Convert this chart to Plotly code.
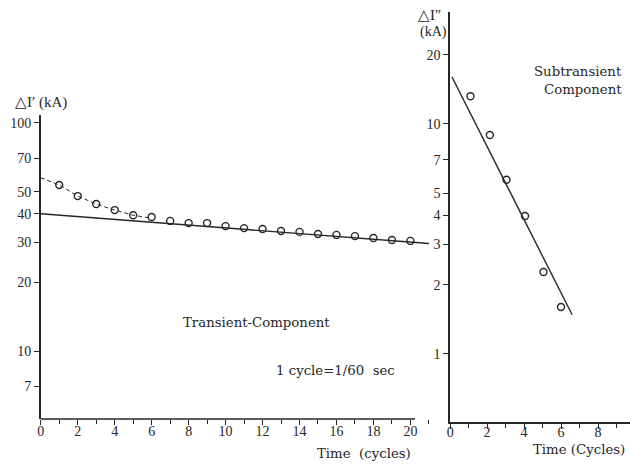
import plotly.graph_objects as go

# ---- data ----
t_trans = list(range(1, 21))
i_trans = [53.5, 47.8, 44.1, 41.5, 39.4, 38.7, 37.2, 36.4, 36.4, 35.3,
           34.6, 34.3, 33.6, 33.3, 32.6, 32.3, 31.9, 31.3, 30.7, 30.4]
t_dash = [0, 1, 2, 3, 4, 5, 6]
i_dash = [57.5, 53.5, 47.8, 44.1, 41.5, 39.4, 38.2]
t_fit_trans = [0, 21]
i_fit_trans = [40.0, 29.6]

t_sub = [1.1, 2.15, 3.05, 4.05, 5.05, 6.0]
i_sub = [13.2, 8.96, 5.72, 3.98, 2.27, 1.60]
t_fit_sub = [0.1, 6.6]
i_fit_sub = [16.0, 1.48]

left_yticks = [7, 10, 20, 30, 40, 50, 70, 100]
right_yticks = [1, 2, 3, 4, 5, 7, 10, 20]
left_xticks = [0, 2, 4, 6, 8, 10, 12, 14, 16, 18, 20]
right_xticks = [0, 2, 4, 6, 8]

INK = "#262626"
FONT = "Liberation Serif"
TFONT = "DejaVu Serif"
W, H = 630, 465

fig = go.Figure()
fig.add_trace(go.Scatter(x=t_dash, y=i_dash, mode="lines",
                         line=dict(color=INK, width=1, dash="4px,3px"),
                         xaxis="x", yaxis="y", hoverinfo="skip"))
fig.add_trace(go.Scatter(x=t_fit_trans, y=i_fit_trans, mode="lines",
                         line=dict(color=INK, width=1.4),
                         xaxis="x", yaxis="y", cliponaxis=False))
fig.add_trace(go.Scatter(x=t_trans, y=i_trans, mode="markers",
                         marker=dict(symbol="circle-open", size=7, color=INK,
                                     line=dict(width=1.4, color=INK)),
                         xaxis="x", yaxis="y"))
fig.add_trace(go.Scatter(x=t_fit_sub, y=i_fit_sub, mode="lines",
                         line=dict(color=INK, width=1.4),
                         xaxis="x2", yaxis="y2"))
fig.add_trace(go.Scatter(x=t_sub, y=i_sub, mode="markers",
                         marker=dict(symbol="circle-open", size=7, color=INK,
                                     line=dict(width=1.4, color=INK)),
                         xaxis="x2", yaxis="y2"))

def px_x(p):
    return p / W

def px_y(p):
    return 1 - p / H

tickfont = dict(family=FONT, size=14, color=INK)
common_x = dict(showgrid=False, zeroline=False, ticks="outside", ticklen=5,
                tickwidth=1.2, tickcolor=INK, tickfont=tickfont,
                minor=dict(ticks="outside", ticklen=4, dtick=1, tickcolor=INK, tickwidth=1.2))
common_y = dict(type="log", showgrid=False, zeroline=False, ticks="outside",
                ticklen=5, tickwidth=1.2, tickcolor=INK, tickfont=tickfont,
                showline=True, linecolor=INK, linewidth=1.6)

fig.update_layout(
    width=W, height=H, margin=dict(l=0, r=0, t=0, b=0),
    paper_bgcolor="white", plot_bgcolor="white", showlegend=False,
    xaxis=dict(domain=[px_x(37), px_x(428)], range=[0, (428 - 37) / 18.6],
               tickvals=left_xticks, ticktext=[str(v) for v in left_xticks],
               showline=False, anchor="y", ticklabelstandoff=-6, **common_x),
    yaxis=dict(domain=[px_y(419), px_y(115)], range=[0.702, 2.035],
               tickvals=left_yticks, ticktext=[str(v) for v in left_yticks],
               anchor="x", **common_y),
    xaxis2=dict(domain=[px_x(449), 1.0], range=[0, (630 - 449) / 18.6],
                tickvals=right_xticks, ticktext=[str(v) for v in right_xticks],
                showline=True, linecolor=INK, linewidth=1.6, anchor="y2",
                ticklabelstandoff=-9, **common_x),
    yaxis2=dict(domain=[px_y(422), px_y(12)], range=[-0.296, 1.487],
                tickvals=right_yticks, ticktext=[str(v) for v in right_yticks],
                anchor="x2", **common_y),
)

# left x axis line stops just past 20
fig.add_shape(type="line", xref="x", yref="paper", x0=0, x1=20.25,
              y0=px_y(419), y1=px_y(419), line=dict(color=INK, width=1.6))

def txt(x, y, s, size=13.3, xanchor="left", family=TFONT):
    fig.add_annotation(x=px_x(x), y=px_y(y), xref="paper", yref="paper", text=s,
                       showarrow=False, xanchor=xanchor, yanchor="middle",
                       font=dict(family=family, size=size, color=INK))

txt(9, 102, "△I′ (kA)", 15, family=FONT)
txt(415, 15, "△I″", 15, family=FONT)
txt(417, 32, "(kA)", 14, family=FONT)
txt(178, 322, "Transient-Component")
txt(272, 370, "1 cycle=1/60  sec")
txt(624, 72, "Subtransient", xanchor="right")
txt(624, 89, "Component", xanchor="right")
txt(313, 453, "Time  (cycles)")
txt(530, 449, "Time (Cycles)")

fig.write_html("out.html")
